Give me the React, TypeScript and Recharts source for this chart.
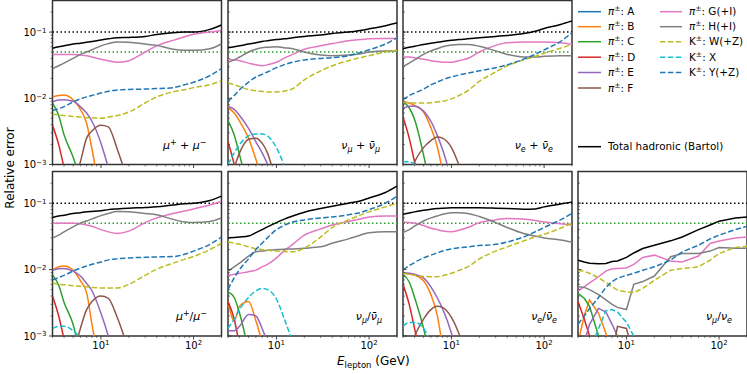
import React from 'react';
import { LineChart, Line, XAxis, YAxis, ReferenceLine, ReferenceArea } from 'recharts';

// ---------- shared grid ----------
const energies = [3, 3.5, 4, 5, 6, 7, 8, 10, 12, 15, 20, 30, 40, 60, 80, 100, 150, 200];
const xTickValues = [3, 4, 5, 6, 7, 8, 9, 10, 20, 30, 40, 50, 60, 70, 80, 90, 100, 200];
const yTickValues = [0.001, 0.002, 0.003, 0.004, 0.005, 0.006, 0.007, 0.008, 0.009, 0.01, 0.02, 0.03, 0.04, 0.05, 0.06, 0.07, 0.08, 0.09, 0.1, 0.2];
const refTotal = 0.1;
const refHalf = 0.05;

// ---------- panel 1: mu+ + mu- ----------
const p1_T = [0.057, 0.06, 0.062, 0.066, 0.068, 0.07, 0.072, 0.076, 0.079, 0.082, 0.083, 0.086, 0.092, 0.098, 0.1, 0.1, 0.11, 0.128];
const p1_H = [0.028, 0.031, 0.034, 0.04, 0.046, 0.05, 0.054, 0.062, 0.067, 0.071, 0.07, 0.066, 0.063, 0.055, 0.053, 0.053, 0.056, 0.066];
const p1_G = [0.046, 0.046, 0.046, 0.046, 0.045, 0.044, 0.042, 0.039, 0.037, 0.035, 0.037, 0.05, 0.062, 0.075, 0.085, 0.093, 0.1, 0.107];
const p1_Y = [0.0065, 0.007, 0.0075, 0.0088, 0.0098, 0.0105, 0.011, 0.012, 0.0128, 0.0133, 0.0136, 0.0138, 0.014, 0.0145, 0.016, 0.0175, 0.022, 0.028];
const p1_W = [0.0058, 0.0056, 0.0055, 0.0053, 0.0052, 0.0051, 0.0051, 0.005, 0.0052, 0.0055, 0.0062, 0.0085, 0.0105, 0.0125, 0.0135, 0.0145, 0.016, 0.0185];
const p1_B = [0.0105, 0.011, 0.0112, 0.0095, 0.0068, 0.0042, 0.0017, 0.0003];
const p1_E = [0.0088, 0.0094, 0.0095, 0.009, 0.0075, 0.006, 0.0045, 0.0021, 0.0009, 0.0003];
const p1_C = [0.0085, 0.0055, 0.0028, 0.0013, 0.0006];
const p1_D = [0.0039, 0.002, 0.0009, 0.0003];
const p1_F = [null, null, null, 0.0005, 0.0011, 0.0025, 0.0032, 0.0039, 0.0037, 0.0017, 0.0005];

// ---------- panel 2: nu_mu + nubar_mu ----------
const p2_T = [0.058, 0.06, 0.062, 0.066, 0.069, 0.072, 0.074, 0.077, 0.079, 0.082, 0.086, 0.09, 0.095, 0.1, 0.106, 0.112, 0.125, 0.137];
const p2_H = [0.035, 0.038, 0.042, 0.05, 0.055, 0.058, 0.059, 0.06, 0.058, 0.056, 0.05, 0.045, 0.044, 0.045, 0.047, 0.05, 0.052, 0.052];
const p2_G = [0.039, 0.038, 0.037, 0.034, 0.032, 0.031, 0.032, 0.035, 0.04, 0.046, 0.055, 0.062, 0.067, 0.074, 0.077, 0.079, 0.08, 0.08];
const p2_Y = [0.009, 0.011, 0.0135, 0.0175, 0.021, 0.023, 0.025, 0.029, 0.032, 0.035, 0.038, 0.04, 0.041, 0.044, 0.049, 0.054, 0.066, 0.082];
const p2_W = [0.017, 0.016, 0.015, 0.0135, 0.013, 0.0127, 0.0125, 0.0125, 0.0128, 0.014, 0.019, 0.026, 0.031, 0.037, 0.041, 0.044, 0.05, 0.053];
const p2_X = [0.001, 0.0015, 0.002, 0.0027, 0.0029, 0.0029, 0.0027, 0.0018, 0.001, 0.0004];
const p2_F = [null, 0.0009, 0.0015, 0.0024, 0.0025, 0.0021, 0.0015, 0.0005];
const p2_E = [0.0075, 0.0068, 0.0055, 0.0035, 0.0022, 0.0015, 0.001, 0.0003];
const p2_B = [0.0072, 0.006, 0.0045, 0.0025, 0.0012, 0.0006];
const p2_C = [0.0046, 0.0028, 0.0014, 0.0004];
const p2_D = [0.0022, 0.001, 0.0004];

// ---------- panel 3: nu_e + nubar_e ----------
const p3_T = [0.056, 0.059, 0.061, 0.065, 0.068, 0.07, 0.072, 0.075, 0.077, 0.079, 0.082, 0.086, 0.089, 0.095, 0.103, 0.113, 0.13, 0.147];
const p3_H = [0.03, 0.034, 0.038, 0.046, 0.052, 0.056, 0.06, 0.064, 0.065, 0.065, 0.061, 0.052, 0.046, 0.042, 0.042, 0.043, 0.044, 0.044];
const p3_G = [0.042, 0.042, 0.041, 0.039, 0.037, 0.036, 0.035, 0.035, 0.037, 0.04, 0.05, 0.063, 0.069, 0.071, 0.071, 0.071, 0.069, 0.065];
const p3_Y = [0.0095, 0.011, 0.012, 0.0138, 0.016, 0.0175, 0.019, 0.021, 0.0225, 0.024, 0.026, 0.029, 0.032, 0.039, 0.046, 0.054, 0.072, 0.098];
const p3_W = [0.0088, 0.0086, 0.0085, 0.0085, 0.0086, 0.0088, 0.009, 0.0098, 0.011, 0.013, 0.018, 0.025, 0.031, 0.038, 0.043, 0.048, 0.057, 0.065];
const p3_B = [0.0088, 0.0085, 0.0078, 0.0062, 0.0036, 0.0019, 0.0008];
const p3_E = [0.007, 0.0076, 0.0076, 0.0064, 0.0045, 0.0028, 0.0017, 0.0006];
const p3_C = [0.0088, 0.0072, 0.0048, 0.0014, 0.0004];
const p3_D = [0.0052, 0.0025, 0.0011, 0.0003];
const p3_F = [null, 0.0007, 0.0011, 0.0018, 0.0023, 0.0026, 0.0025, 0.0018, 0.001, 0.0004];
const p3_X = [0.0011, 0.0011, 0.001, 0.0007];

// ---------- panel 4: mu+/mu- ----------
const p4_T = [0.061, 0.064, 0.066, 0.07, 0.072, 0.074, 0.075, 0.077, 0.08, 0.082, 0.084, 0.086, 0.088, 0.094, 0.098, 0.1, 0.11, 0.128];
const p4_H = [0.03, 0.033, 0.037, 0.044, 0.05, 0.054, 0.058, 0.065, 0.07, 0.075, 0.074, 0.07, 0.067, 0.057, 0.052, 0.051, 0.053, 0.06];
const p4_G = [0.05, 0.05, 0.05, 0.05, 0.049, 0.047, 0.045, 0.04, 0.037, 0.035, 0.038, 0.051, 0.06, 0.07, 0.076, 0.082, 0.094, 0.106];
const p4_Y = [0.007, 0.0076, 0.0082, 0.0095, 0.0105, 0.0113, 0.012, 0.013, 0.014, 0.0145, 0.015, 0.0153, 0.0155, 0.0157, 0.017, 0.019, 0.024, 0.031];
const p4_W = [0.0063, 0.006, 0.0059, 0.0057, 0.0056, 0.0055, 0.0054, 0.0053, 0.0053, 0.0053, 0.006, 0.0082, 0.0101, 0.0125, 0.0143, 0.0158, 0.02, 0.025];
const p4_B = [0.0098, 0.011, 0.0113, 0.0098, 0.0068, 0.0045, 0.0015, 0.0003];
const p4_E = [0.0098, 0.0103, 0.0104, 0.0095, 0.008, 0.0062, 0.0048, 0.0022, 0.001, 0.0003];
const p4_C = [0.0083, 0.0058, 0.0032, 0.0015, 0.0005];
const p4_D = [0.004, 0.002, 0.0009, 0.0003];
const p4_F = [null, null, null, 0.0005, 0.0013, 0.0025, 0.0033, 0.004, 0.0037, 0.0019, 0.0006];
const p4_X = [0.0013, 0.0014, 0.0014, 0.0012, 0.0009, 0.0005];

// ---------- panel 5: nu_mu / nubar_mu ----------
const p5_T = [0.03, 0.0305, 0.031, 0.032, 0.036, 0.04, 0.044, 0.051, 0.057, 0.064, 0.073, 0.083, 0.09, 0.1, 0.108, 0.12, 0.145, 0.18];
const p5_Y = [0.005, 0.0075, 0.01, 0.0145, 0.02, 0.025, 0.03, 0.04, 0.046, 0.052, 0.056, 0.06, 0.062, 0.067, 0.072, 0.08, 0.1, 0.127];
const p5_W = [0.026, 0.025, 0.024, 0.022, 0.0205, 0.02, 0.0195, 0.019, 0.0187, 0.0185, 0.021, 0.031, 0.043, 0.056, 0.066, 0.074, 0.088, 0.1];
const p5_H = [0.0095, 0.011, 0.0125, 0.016, 0.0185, 0.019, 0.0195, 0.02, 0.0203, 0.0205, 0.021, 0.022, 0.025, 0.029, 0.033, 0.036, 0.037, 0.037];
const p5_G = [0.0082, 0.0085, 0.0088, 0.0093, 0.0098, 0.011, 0.012, 0.015, 0.019, 0.024, 0.033, 0.041, 0.047, 0.053, 0.058, 0.062, 0.064, 0.064];
const p5_X = [0.0013, 0.0018, 0.0025, 0.0038, 0.0048, 0.0052, 0.005, 0.0036, 0.0019, 0.0008];
const p5_B = [0.0033, 0.0017, 0.0028, 0.0033, 0.0017, 0.0008];
const p5_C = [0.0046, 0.0038, 0.0022, 0.0006];
const p5_D = [0.0033, 0.0018, 0.0007];
const p5_E = [0.0012, 0.0012, 0.0014, 0.0021, 0.002, 0.0013, 0.0008];

// ---------- panel 6: nu_e / nubar_e ----------
const p6_T = [0.068, 0.071, 0.074, 0.078, 0.081, 0.083, 0.084, 0.085, 0.085, 0.085, 0.085, 0.084, 0.083, 0.081, 0.082, 0.088, 0.097, 0.104];
const p6_H = [0.036, 0.04, 0.045, 0.054, 0.06, 0.064, 0.068, 0.072, 0.072, 0.07, 0.063, 0.051, 0.043, 0.035, 0.032, 0.03, 0.028, 0.026];
const p6_G = [0.052, 0.051, 0.05, 0.046, 0.042, 0.04, 0.038, 0.037, 0.039, 0.043, 0.051, 0.056, 0.059, 0.058, 0.055, 0.052, 0.049, 0.047];
const p6_Y = [0.01, 0.0115, 0.0128, 0.015, 0.0165, 0.0178, 0.019, 0.0205, 0.0213, 0.022, 0.023, 0.024, 0.026, 0.031, 0.037, 0.043, 0.056, 0.07];
const p6_W = [0.0088, 0.0085, 0.0082, 0.0079, 0.0078, 0.0078, 0.0081, 0.0088, 0.0097, 0.011, 0.0145, 0.019, 0.022, 0.027, 0.031, 0.034, 0.042, 0.05];
const p6_E = [0.009, 0.0088, 0.0085, 0.0075, 0.0055, 0.0038, 0.0026, 0.0011, 0.0004];
const p6_B = [0.0088, 0.0086, 0.0083, 0.0068, 0.0042, 0.0021, 0.0007];
const p6_C = [0.0085, 0.0065, 0.0038, 0.0013, 0.0004];
const p6_D = [0.006, 0.003, 0.0013, 0.0003];
const p6_F = [null, 0.0006, 0.001, 0.0018, 0.0025, 0.0028, 0.0027, 0.0019, 0.0011, 0.0004];
const p6_X = [0.0014, 0.0016, 0.0016, 0.0013, 0.0008];

// ---------- panel 7: nu_mu / nu_e ----------
const p7_T = [0.0138, 0.013, 0.0125, 0.0122, 0.0124, 0.0132, 0.0135, 0.0153, 0.0178, 0.0208, 0.0233, 0.0271, 0.031, 0.04, 0.047, 0.0536, 0.06, 0.062];
const p7_G = [0.0048, 0.0055, 0.0063, 0.0078, 0.0095, 0.0103, 0.0104, 0.0106, 0.012, 0.0152, 0.0165, 0.0135, 0.013, 0.016, 0.0247, 0.027, 0.03, 0.031];
const p7_Y = [0.0015, 0.002, 0.0026, 0.0038, 0.0054, 0.0066, 0.0074, 0.0082, 0.0088, 0.0098, 0.011, 0.0139, 0.0185, 0.0233, 0.029, 0.033, 0.04, 0.045];
const p7_W = [0.0098, 0.0094, 0.0088, 0.0075, 0.0064, 0.0055, 0.0049, 0.0046, 0.0045, 0.0052, 0.0069, 0.0098, 0.0104, 0.011, 0.0139, 0.0175, 0.0216, 0.0225];
const p7_H = [0.0055, 0.0054, 0.005, 0.0042, 0.0035, 0.003, 0.0027, 0.0025, 0.006, 0.0066, 0.008, 0.0156, 0.0175, 0.0175, 0.019, 0.0215, 0.021, 0.021];
const p7_X = [null, null, 0.0006, 0.0013, 0.0024, 0.0025, 0.0023, 0.0016, 0.001, 0.0004];
const p7_E = [null, 0.0008, 0.0015, 0.0026, 0.0023, 0.0015, 0.001];
const p7_B = [0.0008, 0.002, 0.0035, 0.0022, 0.0011, 0.0004];
const p7_C = [0.0044, 0.0037, 0.0028, 0.001];
const p7_D = [0.0033, 0.0018, 0.001, 0.0003];
const p7_F = [null, null, null, null, null, 0.0005, 0.0014, 0.0013, 0.0005];

// ---------- series styling ----------
const seriesKeys = ['A', 'B', 'C', 'D', 'E', 'F', 'G', 'H', 'W', 'X', 'Y', 'T'];
const seriesColor: Record<string, string> = {
  A: '#1f77b4', B: '#ff7f0e', C: '#2ca02c', D: '#d62728', E: '#9467bd', F: '#8c564b',
  G: '#e377c2', H: '#7f7f7f', W: '#bcbd22', X: '#17becf', Y: '#1f77b4', T: '#000000',
};
const seriesDashed: Record<string, boolean> = { W: true, X: true, Y: true };
const legendCol1 = [['A', 'A'], ['B', 'B'], ['C', 'C'], ['D', 'D'], ['E', 'E'], ['F', 'F']];
const legendCol2 = [['G', 'π', 'G(+I)'], ['H', 'π', 'H(+I)'], ['W', 'K', 'W(+Z)'], ['X', 'K', 'X'], ['Y', 'K', 'Y(+Z)']];

const DASH = '5.5 2.4';
const DOT = '1.5 2.5';
const FONT = 'DejaVu Sans, sans-serif';
const SPINE = '#333';
const LEG_FS = 10.4;

const PW = 169;
const colLeft = [52.5, 228, 403, 578];
const rowTop = [0, 171.5];
const rowHeight = [164, 164.5];

type PanelDef = { row: number; col: number; curve: 'monotone' | 'linear'; series: Record<string, (number | null)[]> };

const panels: PanelDef[] = [
  { row: 0, col: 0, curve: 'monotone', series: { B: p1_B, C: p1_C, D: p1_D, E: p1_E, F: p1_F, G: p1_G, H: p1_H, W: p1_W, Y: p1_Y, T: p1_T } },
  { row: 0, col: 1, curve: 'monotone', series: { B: p2_B, C: p2_C, D: p2_D, E: p2_E, F: p2_F, G: p2_G, H: p2_H, W: p2_W, X: p2_X, Y: p2_Y, T: p2_T } },
  { row: 0, col: 2, curve: 'monotone', series: { B: p3_B, C: p3_C, D: p3_D, E: p3_E, F: p3_F, G: p3_G, H: p3_H, W: p3_W, X: p3_X, Y: p3_Y, T: p3_T } },
  { row: 1, col: 0, curve: 'monotone', series: { B: p4_B, C: p4_C, D: p4_D, E: p4_E, F: p4_F, G: p4_G, H: p4_H, W: p4_W, X: p4_X, Y: p4_Y, T: p4_T } },
  { row: 1, col: 1, curve: 'monotone', series: { B: p5_B, C: p5_C, D: p5_D, E: p5_E, G: p5_G, H: p5_H, W: p5_W, X: p5_X, Y: p5_Y, T: p5_T } },
  { row: 1, col: 2, curve: 'monotone', series: { B: p6_B, C: p6_C, D: p6_D, E: p6_E, F: p6_F, G: p6_G, H: p6_H, W: p6_W, X: p6_X, Y: p6_Y, T: p6_T } },
  { row: 1, col: 3, curve: 'linear', series: { B: p7_B, C: p7_C, D: p7_D, E: p7_E, F: p7_F, G: p7_G, H: p7_H, W: p7_W, X: p7_X, Y: p7_Y, T: p7_T } },
];

const isMajor = (v: number) => Math.abs(Math.log10(v) - Math.round(Math.log10(v))) < 1e-6;
const expOf = (v: number) => Math.round(Math.log10(v));
const supText = (e: number) => (e < 0 ? '\u2212' + String(-e) : String(e));

function makeYTick(showLabel: boolean, inward: boolean) {
  return (props: any) => {
    const { x, y, payload } = props;
    const v = payload.value as number;
    const major = isMajor(v);
    const len = major ? 3.5 : 2;
    const dir = inward ? 1 : -1;
    return (
      <g>
        <line x1={x} x2={x + dir * len} y1={y} y2={y} stroke={SPINE} strokeWidth={major ? 0.9 : 0.6} />
        {showLabel && major ? (
          <text x={x - 6} y={y} dy="0.36em" textAnchor="end" fontSize={10} fontFamily={FONT} fill="#000">
            10<tspan dy="-0.45em" fontSize={7}>{supText(expOf(v))}</tspan>
          </text>
        ) : null}
      </g>
    );
  };
}

function makeXTick(showLabel: boolean) {
  return (props: any) => {
    const { x, y, payload } = props;
    const v = payload.value as number;
    const major = isMajor(v);
    const len = major ? 3.5 : 2;
    return (
      <g>
        <line x1={x} x2={x} y1={y} y2={y + len} stroke={SPINE} strokeWidth={major ? 0.9 : 0.6} />
        {showLabel && major ? (
          <text x={x} y={y + 12.5} textAnchor="middle" fontSize={10} fontFamily={FONT} fill="#000">
            10<tspan dy="-0.45em" fontSize={7}>{supText(expOf(v))}</tspan>
          </text>
        ) : null}
      </g>
    );
  };
}

function Panel({ p }: { p: PanelDef }) {
  const L = p.col === 0 ? 52.5 : 3;
  const R = 2;
  const T = 1.5;
  const B = p.row === 1 ? 22 : 6;
  const h = rowHeight[p.row];
  const data = energies.map((e, i) => {
    const row: Record<string, number | null> = { energy: e };
    seriesKeys.forEach((k) => {
      const arr = p.series[k];
      row['s' + k] = arr && i < arr.length && arr[i] != null ? (arr[i] as number) : null;
    });
    return row;
  });
  const keys = seriesKeys.filter((k) => p.series[k]);
  return (
    <div style={{ position: 'absolute', left: colLeft[p.col] - L, top: rowTop[p.row] - T }}>
      <LineChart width={PW + L + R} height={h + T + B} data={data} margin={{ top: T, right: R, left: 0, bottom: 0 }}>
        <XAxis
          dataKey="energy"
          type="number"
          scale="log"
          domain={[3, 200]}
          allowDataOverflow
          ticks={xTickValues}
          interval={0}
          tickLine={false}
          tickSize={0}
          tickMargin={0}
          axisLine={false}
          height={B}
          tick={makeXTick(p.row === 1)}
        />
        <YAxis
          type="number"
          scale="log"
          domain={[0.001, 0.3]}
          allowDataOverflow
          ticks={yTickValues}
          interval={0}
          tickLine={false}
          tickSize={0}
          tickMargin={0}
          axisLine={false}
          width={L}
          tick={makeYTick(p.col === 0, p.col !== 0)}
        />
        <ReferenceLine y={refTotal} stroke="#000" strokeWidth={1.5} strokeDasharray={DOT} />
        <ReferenceLine y={refHalf} stroke="#2ca02c" strokeWidth={1.5} strokeDasharray={DOT} />
        {keys.map((k) => (
          <Line
            key={k}
            type={p.curve}
            dataKey={'s' + k}
            stroke={seriesColor[k]}
            strokeWidth={1.5}
            strokeDasharray={seriesDashed[k] ? DASH : undefined}
            dot={false}
            activeDot={false}
            connectNulls={false}
            isAnimationActive={false}
          />
        ))}
        <ReferenceArea x1={3} x2={200} y1={0.001} y2={0.3} fill="none" stroke={SPINE} strokeWidth={1.5} ifOverflow="visible" />
      </LineChart>
    </div>
  );
}

function Overlay() {
  const legRows = [11.7, 26.7, 41.7, 57.2, 72.5, 88];
  const supDy = -4;
  const base = [148.5, 320];
  return (
    <svg width={747} height={374} style={{ position: 'absolute', left: 0, top: 0, pointerEvents: 'none' }} fontFamily={FONT}>
      {legendCol1.map(([k, lab], i) => (
        <g key={'l1' + k}>
          <line x1={578} x2={601} y1={legRows[i]} y2={legRows[i]} stroke={seriesColor[k]} strokeWidth={1.5} strokeDasharray={seriesDashed[k] ? DASH : undefined} />
          <text x={608} y={legRows[i]} dy="0.36em" fontSize={LEG_FS} fill="#000">
            <tspan fontStyle="italic">π</tspan>
            <tspan dy={supDy} fontSize={7.5}>±</tspan>
            <tspan dy={-supDy}>{': ' + lab}</tspan>
          </text>
        </g>
      ))}
      {legendCol2.map(([k, sym, lab], i) => (
        <g key={'l2' + k}>
          <line x1={660} x2={682} y1={legRows[i]} y2={legRows[i]} stroke={seriesColor[k]} strokeWidth={1.5} strokeDasharray={seriesDashed[k] ? DASH : undefined} />
          <text x={689} y={legRows[i]} dy="0.36em" fontSize={LEG_FS} fill="#000">
            <tspan fontStyle={sym === 'π' ? 'italic' : 'normal'}>{sym}</tspan>
            <tspan dy={supDy} fontSize={7.5}>±</tspan>
            <tspan dy={-supDy}>{': ' + lab}</tspan>
          </text>
        </g>
      ))}
      <line x1={578} x2={601} y1={146.7} y2={146.7} stroke="#000" strokeWidth={1.5} />
      <text x={608} y={146.7} dy="0.36em" fontSize={LEG_FS} fill="#000">Total hadronic (Bartol)</text>

      <text x={colLeft[0] + PW - 15} y={base[0]} textAnchor="end" fontSize={11} fill="#000">
        <tspan fontStyle="italic">μ</tspan><tspan dy={-4} fontSize={8}>+</tspan><tspan dy={4}>{' + '}</tspan>
        <tspan fontStyle="italic">μ</tspan><tspan dy={-4} fontSize={8}>−</tspan>
      </text>
      <text x={colLeft[1] + PW - 17} y={base[0]} textAnchor="end" fontSize={11} fill="#000">
        <tspan fontStyle="italic">ν</tspan><tspan dy={3} fontSize={8} fontStyle="italic">μ</tspan><tspan dy={-3}>{' + '}</tspan>
        <tspan fontStyle="italic">{'ν\u0304'}</tspan><tspan dy={3} fontSize={8} fontStyle="italic">μ</tspan>
      </text>
      <text x={colLeft[2] + PW - 19} y={base[0]} textAnchor="end" fontSize={11} fill="#000">
        <tspan fontStyle="italic">ν</tspan><tspan dy={3} fontSize={8} fontStyle="italic">e</tspan><tspan dy={-3}>{' + '}</tspan>
        <tspan fontStyle="italic">{'ν\u0304'}</tspan><tspan dy={3} fontSize={8} fontStyle="italic">e</tspan>
      </text>
      <text x={colLeft[0] + PW - 14.5} y={base[1]} textAnchor="end" fontSize={11} fill="#000">
        <tspan fontStyle="italic">μ</tspan><tspan dy={-4} fontSize={8}>+</tspan><tspan dy={4}>/</tspan>
        <tspan fontStyle="italic">μ</tspan><tspan dy={-4} fontSize={8}>−</tspan>
      </text>
      <text x={colLeft[1] + PW - 15} y={base[1]} textAnchor="end" fontSize={11} fill="#000">
        <tspan fontStyle="italic">ν</tspan><tspan dy={3} fontSize={8} fontStyle="italic">μ</tspan><tspan dy={-3}>/</tspan>
        <tspan fontStyle="italic">{'ν\u0304'}</tspan><tspan dy={3} fontSize={8} fontStyle="italic">μ</tspan>
      </text>
      <text x={colLeft[2] + PW - 15} y={base[1]} textAnchor="end" fontSize={11} fill="#000">
        <tspan fontStyle="italic">ν</tspan><tspan dy={3} fontSize={8} fontStyle="italic">e</tspan><tspan dy={-3}>/</tspan>
        <tspan fontStyle="italic">{'ν\u0304'}</tspan><tspan dy={3} fontSize={8} fontStyle="italic">e</tspan>
      </text>
      <text x={colLeft[3] + PW - 15} y={base[1]} textAnchor="end" fontSize={11} fill="#000">
        <tspan fontStyle="italic">ν</tspan><tspan dy={3} fontSize={8} fontStyle="italic">μ</tspan><tspan dy={-3}>/</tspan>
        <tspan fontStyle="italic">ν</tspan><tspan dy={3} fontSize={8} fontStyle="italic">e</tspan>
      </text>

      <text transform="translate(13.5,168) rotate(-90)" textAnchor="middle" fontSize={12} fill="#000">Relative error</text>
      <text x={337} y={365} fontSize={12} fill="#000">
        <tspan fontStyle="italic">E</tspan><tspan dy={3} fontSize={8.5}>lepton</tspan><tspan dy={-3}>{' (GeV)'}</tspan>
      </text>
    </svg>
  );
}

export default function App() {
  return (
    <div style={{ position: 'absolute', left: 0, top: 0, width: 747, height: 374, background: '#fff', fontFamily: FONT, overflow: 'hidden' }}>
      {panels.map((p, i) => (
        <Panel key={i} p={p} />
      ))}
      <Overlay />
    </div>
  );
}
